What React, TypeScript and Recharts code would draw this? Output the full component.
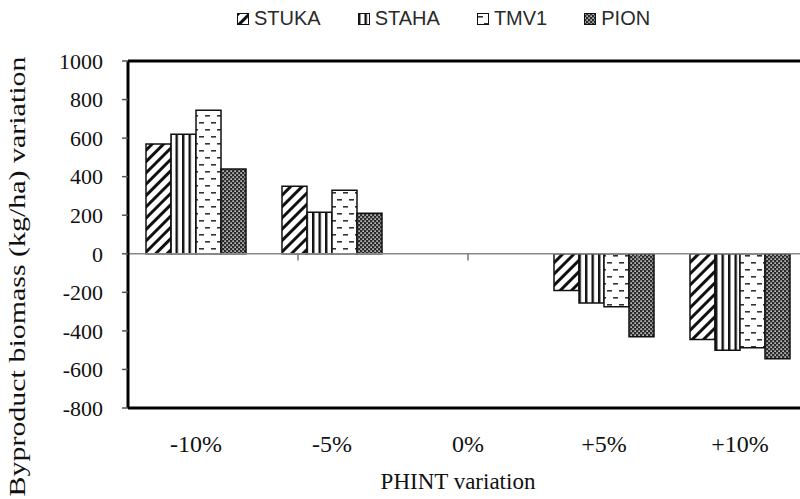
import { BarChart, Bar, XAxis, YAxis, ReferenceLine, Legend, Label } from 'recharts'

const categories = ['-10%', '-5%', '0%', '+5%', '+10%']
const stuka = [570, 350, 0, -190, -445]
const staha = [620, 215, 0, -255, -500]
const tmv1 = [745, 330, 0, -275, -488]
const pion = [440, 210, 0, -430, -545]

const yTicks = [-800, -600, -400, -200, 0, 200, 400, 600, 800, 1000]
// category boundaries on the zero line (Excel-style tick marks)
const boundaries = [1, 2, 3, 4]

const data = categories.map((name, i) => ({
  name,
  STUKA: stuka[i],
  STAHA: staha[i],
  TMV1: tmv1[i],
  PION: pion[i],
}))

const SERIES = [
  { key: 'STUKA', fill: 'url(#pat-stuka)' },
  { key: 'STAHA', fill: 'url(#pat-staha)' },
  { key: 'TMV1', fill: 'url(#pat-tmv1)' },
  { key: 'PION', fill: 'url(#pat-pion)' },
]
const ORDER = SERIES.map((s) => s.key)

const SERIF = '"Liberation Serif", "Times New Roman", serif'
const SANS = '"Liberation Sans", Arial, sans-serif'

function LegendContent(props: any) {
  const items = [...(props.payload || [])].sort(
    (a: any, b: any) => ORDER.indexOf(a.value) - ORDER.indexOf(b.value)
  )
  return (
    <div style={{ display: 'flex', gap: 37, fontFamily: SANS, fontSize: 20, color: '#2a2a2a' }}>
      {items.map((e: any) => (
        <div key={e.value} style={{ display: 'flex', alignItems: 'center' }}>
          <svg width={12} height={12} style={{ marginRight: 5 }}>
            <rect x={0.5} y={0.5} width={11} height={11} fill={e.color} stroke="#111" />
          </svg>
          <span>{e.value}</span>
        </div>
      ))}
    </div>
  )
}

function YLabel(props: any) {
  const vb = props.viewBox
  const cx = vb.x - 11
  const cy = vb.y + vb.height / 2 + 42
  return (
    <text
      x={cx}
      y={cy}
      transform={`rotate(-90, ${cx}, ${cy})`}
      textAnchor="middle"
      dominantBaseline="central"
      fill="#111"
      fontFamily={SERIF}
      fontSize={24}
      textLength={440}
      lengthAdjust="spacingAndGlyphs"
    >
      Byproduct biomass (kg/ha) variation
    </text>
  )
}

function XLabel(props: any) {
  const vb = props.viewBox
  return (
    <text
      x={vb.x + vb.width / 2 - 10}
      y={vb.y + vb.height - 10}
      textAnchor="middle"
      fill="#111"
      fontFamily={SERIF}
      fontSize={23}
    >
      PHINT variation
    </text>
  )
}

export default function App() {
  return (
    <div style={{ position: 'absolute', left: 0, top: 0, width: 800, height: 499, overflow: 'hidden', background: '#fff' }}>
      <BarChart
        width={820}
        height={499}
        data={data}
        margin={{ top: 61, right: 12, bottom: 0, left: 28 }}
        barCategoryGap={18}
        barGap={0}
      >
        <defs>
          <pattern id="pat-stuka" patternUnits="userSpaceOnUse" width={8} height={8} patternTransform="rotate(45)">
            <rect width={8} height={8} fill="#fff" />
            <rect x={0} y={0} width={3} height={8} fill="#111" />
          </pattern>
          <pattern id="pat-staha" patternUnits="userSpaceOnUse" width={6.5} height={10}>
            <rect width={6.5} height={10} fill="#fff" />
            <rect x={0} y={0} width={2.4} height={10} fill="#111" />
          </pattern>
          <pattern id="pat-tmv1" patternUnits="userSpaceOnUse" width={12} height={14}>
            <rect width={12} height={14} fill="#fff" />
            <rect x={1} y={3} width={5} height={1.6} fill="#333" />
            <rect x={7} y={10} width={5} height={1.6} fill="#333" />
          </pattern>
          <pattern id="pat-pion" patternUnits="userSpaceOnUse" width={4} height={4}>
            <rect width={4} height={4} fill="#2a2a2a" />
            <rect x={0.4} y={0.4} width={1.4} height={1.4} fill="#fff" />
            <rect x={2.4} y={2.4} width={1.4} height={1.4} fill="#fff" />
          </pattern>
        </defs>
        <XAxis
          dataKey="name"
          height={91}
          interval={0}
          axisLine={{ stroke: '#000', strokeWidth: 3 }}
          tickLine={false}
          tickSize={0}
          tickMargin={27}
          tick={{ fill: '#111', fontSize: 24, fontFamily: SERIF }}
          label={<Label content={XLabel} />}
        />
        <XAxis xAxisId="grid" type="number" domain={[0, 5]} hide />
        <YAxis
          domain={[-800, 1000]}
          ticks={yTicks}
          interval={0}
          width={100}
          allowDataOverflow
          axisLine={{ stroke: '#000', strokeWidth: 3 }}
          tickLine={{ stroke: '#555', strokeWidth: 1.5 }}
          tickSize={6}
          tickMargin={19}
          tick={{ fill: '#111', fontSize: 22, fontFamily: SERIF }}
          label={<Label content={YLabel} />}
        />
        <Legend
          verticalAlign="middle"
          align="center"
          layout="horizontal"
          wrapperStyle={{ top: 7, left: 237, width: 'auto' }}
          content={LegendContent}
        />
        {SERIES.map((s) => (
          <Bar key={s.key} dataKey={s.key} fill={s.fill} stroke="#111" strokeWidth={1.5} isAnimationActive={false} />
        ))}
        <ReferenceLine y={1000} stroke="#000" strokeWidth={3} />
        <ReferenceLine y={0} stroke="#888" strokeWidth={1.5} />
        {boundaries.map((b) => (
          <ReferenceLine
            key={b}
            xAxisId="grid"
            segment={[{ x: b, y: 0 }, { x: b, y: -35 }]}
            stroke="#777"
            strokeWidth={1.5}
          />
        ))}
      </BarChart>
    </div>
  )
}
